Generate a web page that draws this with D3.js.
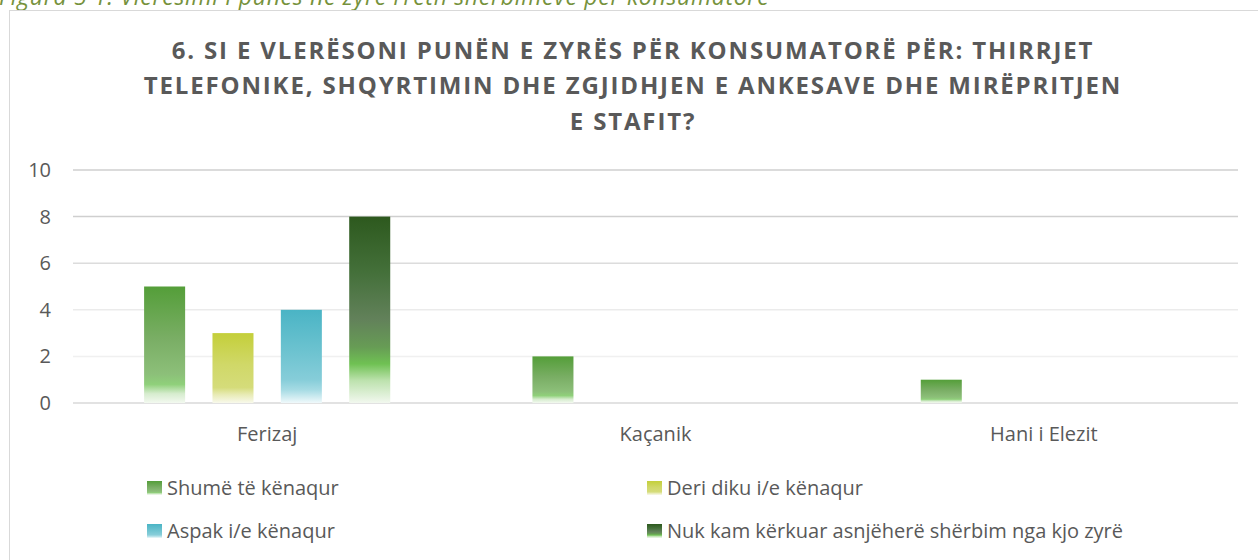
<!DOCTYPE html>
<html>
<head>
  <meta charset="utf-8">
  <title>Vleresimi i zyres</title>
  <script src="https://d3js.org/d3.v7.min.js"></script>
  <style>
    body { margin: 0; background: #fff; }
    text { font-family: "Open Sans", sans-serif; fill: #595959; }
    .title { font-weight: bold; font-size: 24px; letter-spacing: 1.85px; }
    .caption { font-style: italic; font-size: 23px; letter-spacing: 0.7px; fill: #76923c; }
    .tick-label, .cat-label, .legend text { font-size: 20px; }
  </style>
</head>
<body>
  <svg id="chart"></svg>

  <script>
    // Data
    const categories = ["Ferizaj", "Kaçanik", "Hani i Elezit"];
    const seriesNames = [
      "Shumë të kënaqur",
      "Deri diku i/e kënaqur",
      "Aspak i/e kënaqur",
      "Nuk kam kërkuar asnjëherë shërbim nga kjo zyrë"
    ];
    const shumeValues = [5, 2, 1];
    const deriDikuValues = [3, 0, 0];
    const aspakValues = [4, 0, 0];
    const nukKamValues = [8, 0, 0];
    const yTicks = [0, 2, 4, 6, 8, 10];
    const titleLines = [
      "6. SI E VLERËSONI PUNËN E ZYRËS PËR KONSUMATORË PËR: THIRRJET",
      "TELEFONIKE, SHQYRTIMIN DHE ZGJIDHJEN E ANKESAVE DHE MIRËPRITJEN",
      "E STAFIT?"
    ];
    const captionText = "Figura 5 1: Vlerësimi i punës në zyrë rreth shërbimeve për konsumatorë";

    const seriesValues = [shumeValues, deriDikuValues, aspakValues, nukKamValues];

    // gradient stops for each series (Excel-like fill)
    const gradients = [
      [[0, "#549e39"], [0.45, "#7aae65"], [0.75, "#8cbf79"], [0.84, "#8fd07a"], [0.92, "#d6ecce"], [1, "#f3f9f0"]],
      [[0, "#c4cf3a"], [0.45, "#d0d868"], [0.78, "#d5dc7a"], [0.88, "#e8ebb5"], [1, "#f8f9ec"]],
      [[0, "#4ab4c5"], [0.45, "#6dc3d0"], [0.75, "#86cdd9"], [0.86, "#a6dbe4"], [1, "#f0f9fb"]],
      [[0, "#2d591e"], [0.3, "#44703a"], [0.55, "#62815a"], [0.7, "#679c55"], [0.79, "#6fc153"], [0.88, "#bde2ae"], [1, "#f2f8ef"]]
    ];

    const width = 1258;
    const height = 560;
    const margin = { top: 170, left: 73 };
    const chartWidth = 1165;
    const chartHeight = 233;

    const svg = d3.select("#chart")
      .attr("width", width)
      .attr("height", height);

    const defs = svg.append("defs");
    gradients.forEach((stops, i) => {
      const g = defs.append("linearGradient")
        .attr("id", "grad" + i)
        .attr("x1", 0).attr("y1", 0)
        .attr("x2", 0).attr("y2", 1);
      g.selectAll("stop")
        .data(stops)
        .enter()
        .append("stop")
        .attr("offset", d => d[0])
        .attr("stop-color", d => d[1]);
    });

    // caption (cut at top) and frame
    svg.append("text")
      .attr("class", "caption")
      .attr("x", -1)
      .attr("y", 5)
      .text(captionText);

    svg.append("rect")
      .attr("x", 9.5)
      .attr("y", 10.5)
      .attr("width", 1260)
      .attr("height", 600)
      .attr("fill", "none")
      .attr("stroke", "#d9d9d9");

    // title
    svg.append("text")
      .attr("class", "title")
      .attr("text-anchor", "middle")
      .selectAll("tspan")
      .data(titleLines)
      .enter()
      .append("tspan")
      .attr("x", 633)
      .attr("y", (d, i) => 58.5 + i * 35.5)
      .text(d => d);

    const chart = svg.append("g")
      .attr("transform", `translate(${margin.left},${margin.top})`);

    // scales
    const x0 = d3.scaleBand()
      .domain(categories)
      .range([0, chartWidth])
      .padding(0);

    const x1 = d3.scaleBand()
      .domain(d3.range(seriesNames.length))
      .range([0, x0.bandwidth()])
      .paddingInner(0.4)
      .paddingOuter(1.04);

    const yScale = d3.scaleLinear()
      .domain([0, 10])
      .range([chartHeight, 0]);

    const gridColor = d3.scaleLinear()
      .domain([0, 2, 4, 6, 8, 10])
      .range(["#d9d9d9", "#f0f0f0", "#ebebeb", "#dcdcdc", "#cfcfcf", "#cfcfcf"]);

    // gridlines
    chart.append("g")
      .selectAll("line")
      .data(yTicks)
      .enter()
      .append("line")
      .attr("x1", 0)
      .attr("x2", chartWidth)
      .attr("y1", d => yScale(d))
      .attr("y2", d => yScale(d))
      .attr("stroke", d => gridColor(d))
      .attr("stroke-width", 1.5);

    // y axis labels
    const yAxis = d3.axisLeft(yScale)
      .tickValues(yTicks)
      .tickSize(0)
      .tickPadding(22);
    const yg = chart.append("g").call(yAxis);
    yg.select(".domain").remove();
    yg.selectAll("text")
      .attr("class", "tick-label")
      .attr("fill", null)
      .attr("font-size", null)
      .attr("font-family", null);

    // bars
    const groups = chart.selectAll(".cat")
      .data(categories)
      .enter()
      .append("g")
      .attr("class", "cat")
      .attr("transform", d => `translate(${x0(d)},0)`);

    groups.selectAll("rect")
      .data((d, ci) => seriesValues.map((vals, si) => ({ si, v: vals[ci] })))
      .enter()
      .append("rect")
      .attr("x", d => x1(d.si))
      .attr("width", x1.bandwidth())
      .attr("y", d => yScale(d.v))
      .attr("height", d => chartHeight - yScale(d.v))
      .attr("fill", d => `url(#grad${d.si})`);

    // category labels
    const xAxis = d3.axisBottom(x0)
      .tickSize(0)
      .tickPadding(24);
    const xg = chart.append("g")
      .attr("transform", `translate(0,${chartHeight})`)
      .call(xAxis);
    xg.select(".domain").remove();
    xg.selectAll("text")
      .attr("class", "cat-label")
      .attr("fill", null)
      .attr("font-size", null)
      .attr("font-family", null);

    // legend
    const legendPos = [[147, 488], [647, 488], [147, 531], [647, 531]];
    const legend = svg.append("g").attr("class", "legend");
    const items = legend.selectAll("g")
      .data(seriesNames)
      .enter()
      .append("g")
      .attr("transform", (d, i) => `translate(${legendPos[i][0]},${legendPos[i][1]})`);

    items.append("rect")
      .attr("x", 0)
      .attr("y", -7)
      .attr("width", 15)
      .attr("height", 14)
      .attr("fill", (d, i) => `url(#grad${i})`);

    items.append("text")
      .attr("x", 20)
      .attr("y", 0)
      .attr("dy", "0.35em")
      .text(d => d);
  </script>
</body>
</html>
